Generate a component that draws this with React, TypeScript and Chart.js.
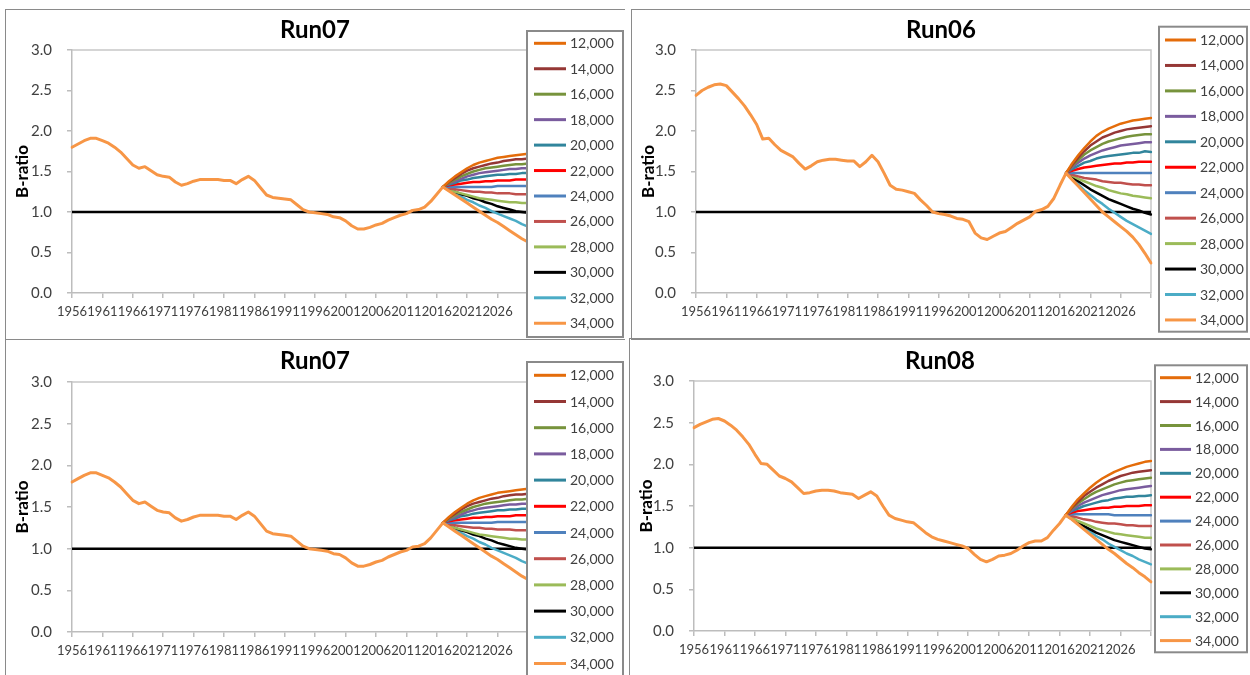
import React, { useEffect, useRef } from 'react';
import { Chart, registerables } from 'chart.js';

Chart.register(...registerables);
Chart.defaults.font.family = 'Lato';

// ---------------- DATA ----------------
const FIRST_YEAR = 1956;
const LAST_YEAR = 2031;
const YEARS: number[] = Array.from({ length: LAST_YEAR - FIRST_YEAR + 1 }, (_, i) => FIRST_YEAR + i);

const TICK_LABELS = ['1956', '1961', '1966', '1971', '1976', '1981', '1986', '1991', '1996', '2001', '2006', '2011', '2016', '2021', '2026'];
const Y_TICKS = [0, 0.5, 1.0, 1.5, 2.0, 2.5, 3.0];

const SERIES_LABELS = ['12,000', '14,000', '16,000', '18,000', '20,000', '22,000', '24,000', '26,000', '28,000', '30,000', '32,000', '34,000'];

const REFERENCE_LEVEL = 1.0;

// History 1956-2017 (shared by all series; drawn as the 34,000 series)
const RUN07_HIST = [
  1.80, 1.84, 1.88, 1.91, 1.91, 1.88, 1.85, 1.80, 1.74, 1.66,
  1.58, 1.54, 1.56, 1.51, 1.46, 1.44, 1.43, 1.37, 1.33, 1.35,
  1.38, 1.40, 1.40, 1.40, 1.40, 1.39, 1.39, 1.35, 1.40, 1.44,
  1.39, 1.30, 1.21, 1.18, 1.17, 1.16, 1.15, 1.09, 1.03, 1.00,
  0.99, 0.98, 0.97, 0.94, 0.93, 0.89, 0.83, 0.79, 0.79, 0.81,
  0.84, 0.86, 0.90, 0.93, 0.96, 0.98, 1.02, 1.03, 1.06, 1.13,
  1.22, 1.31,
];
const RUN06_HIST = [
  2.44, 2.50, 2.54, 2.57, 2.58, 2.56, 2.48, 2.40, 2.31, 2.20,
  2.08, 1.90, 1.91, 1.83, 1.76, 1.72, 1.68, 1.60, 1.53, 1.57,
  1.62, 1.64, 1.65, 1.65, 1.64, 1.63, 1.63, 1.56, 1.62, 1.70,
  1.62, 1.48, 1.33, 1.28, 1.27, 1.25, 1.23, 1.15, 1.08, 1.00,
  0.98, 0.97, 0.95, 0.92, 0.91, 0.88, 0.74, 0.68, 0.66, 0.70,
  0.74, 0.76, 0.81, 0.86, 0.90, 0.94, 1.01, 1.03, 1.07, 1.17,
  1.33, 1.48,
];
const RUN08_HIST = [
  2.44, 2.48, 2.51, 2.54, 2.55, 2.52, 2.47, 2.41, 2.33, 2.24,
  2.12, 2.01, 2.00, 1.93, 1.86, 1.83, 1.79, 1.72, 1.65, 1.66,
  1.68, 1.69, 1.69, 1.68, 1.66, 1.65, 1.64, 1.59, 1.63, 1.67,
  1.62, 1.50, 1.39, 1.35, 1.33, 1.31, 1.30, 1.24, 1.18, 1.13,
  1.10, 1.08, 1.06, 1.04, 1.02, 0.99, 0.92, 0.86, 0.83, 0.86,
  0.90, 0.91, 0.93, 0.97, 1.02, 1.06, 1.08, 1.08, 1.12, 1.21,
  1.29, 1.39,
];

// Projections 2018-2031, one row per catch level (12,000 ... 34,000)
const RUN07_PROJ = [
  [1.38, 1.44, 1.49, 1.54, 1.58, 1.61, 1.63, 1.65, 1.67, 1.68, 1.69, 1.70, 1.71, 1.72],
  [1.37, 1.42, 1.47, 1.51, 1.54, 1.56, 1.58, 1.60, 1.61, 1.63, 1.64, 1.65, 1.65, 1.66],
  [1.36, 1.40, 1.44, 1.47, 1.50, 1.52, 1.54, 1.55, 1.56, 1.57, 1.58, 1.59, 1.59, 1.60],
  [1.35, 1.38, 1.41, 1.44, 1.46, 1.48, 1.49, 1.50, 1.51, 1.52, 1.53, 1.53, 1.54, 1.54],
  [1.34, 1.36, 1.39, 1.40, 1.42, 1.43, 1.44, 1.45, 1.46, 1.46, 1.47, 1.47, 1.48, 1.48],
  [1.33, 1.34, 1.35, 1.36, 1.37, 1.37, 1.38, 1.38, 1.39, 1.39, 1.39, 1.40, 1.40, 1.40],
  [1.31, 1.31, 1.31, 1.31, 1.31, 1.31, 1.31, 1.31, 1.32, 1.32, 1.32, 1.32, 1.32, 1.32],
  [1.29, 1.28, 1.27, 1.26, 1.25, 1.25, 1.24, 1.24, 1.23, 1.23, 1.23, 1.22, 1.22, 1.22],
  [1.28, 1.25, 1.23, 1.21, 1.19, 1.17, 1.16, 1.15, 1.14, 1.13, 1.12, 1.12, 1.11, 1.11],
  [1.28, 1.25, 1.22, 1.20, 1.17, 1.15, 1.12, 1.10, 1.07, 1.05, 1.03, 1.01, 1.00, 0.99],
  [1.27, 1.23, 1.19, 1.15, 1.12, 1.08, 1.05, 1.01, 0.98, 0.95, 0.92, 0.89, 0.85, 0.82],
  [1.26, 1.21, 1.16, 1.11, 1.06, 1.01, 0.96, 0.91, 0.87, 0.82, 0.77, 0.72, 0.67, 0.63],
];
const RUN06_PROJ = [
  [1.60, 1.70, 1.79, 1.87, 1.94, 1.99, 2.03, 2.06, 2.09, 2.11, 2.13, 2.14, 2.15, 2.16],
  [1.58, 1.67, 1.75, 1.82, 1.87, 1.92, 1.95, 1.98, 2.00, 2.02, 2.03, 2.04, 2.05, 2.06],
  [1.57, 1.64, 1.71, 1.76, 1.80, 1.84, 1.87, 1.89, 1.91, 1.93, 1.94, 1.95, 1.96, 1.96],
  [1.55, 1.61, 1.66, 1.70, 1.73, 1.76, 1.78, 1.80, 1.82, 1.83, 1.84, 1.85, 1.86, 1.86],
  [1.53, 1.57, 1.61, 1.63, 1.66, 1.68, 1.69, 1.70, 1.71, 1.72, 1.73, 1.73, 1.75, 1.74],
  [1.51, 1.53, 1.55, 1.56, 1.57, 1.58, 1.59, 1.60, 1.60, 1.61, 1.61, 1.62, 1.62, 1.62],
  [1.48, 1.48, 1.48, 1.48, 1.48, 1.48, 1.48, 1.48, 1.48, 1.48, 1.48, 1.48, 1.48, 1.48],
  [1.46, 1.44, 1.42, 1.41, 1.40, 1.38, 1.37, 1.36, 1.36, 1.35, 1.34, 1.34, 1.33, 1.33],
  [1.45, 1.41, 1.38, 1.35, 1.32, 1.30, 1.27, 1.25, 1.23, 1.22, 1.20, 1.19, 1.18, 1.17],
  [1.43, 1.38, 1.33, 1.28, 1.24, 1.20, 1.16, 1.13, 1.10, 1.07, 1.04, 1.02, 0.99, 0.97],
  [1.41, 1.34, 1.27, 1.21, 1.15, 1.10, 1.04, 0.99, 0.94, 0.89, 0.85, 0.81, 0.77, 0.73],
  [1.40, 1.32, 1.24, 1.16, 1.08, 1.00, 0.94, 0.88, 0.82, 0.76, 0.69, 0.60, 0.49, 0.37],
];
const RUN08_PROJ = [
  [1.49, 1.58, 1.65, 1.72, 1.78, 1.83, 1.87, 1.91, 1.94, 1.97, 1.99, 2.01, 2.03, 2.04],
  [1.48, 1.55, 1.62, 1.67, 1.72, 1.76, 1.80, 1.83, 1.86, 1.88, 1.90, 1.91, 1.92, 1.93],
  [1.47, 1.53, 1.58, 1.63, 1.67, 1.70, 1.73, 1.76, 1.78, 1.80, 1.81, 1.82, 1.83, 1.84],
  [1.45, 1.50, 1.54, 1.57, 1.60, 1.63, 1.65, 1.67, 1.69, 1.70, 1.71, 1.72, 1.73, 1.74],
  [1.44, 1.47, 1.50, 1.52, 1.54, 1.56, 1.57, 1.59, 1.60, 1.61, 1.61, 1.62, 1.62, 1.63],
  [1.42, 1.44, 1.45, 1.46, 1.47, 1.48, 1.48, 1.49, 1.49, 1.50, 1.50, 1.50, 1.51, 1.51],
  [1.40, 1.40, 1.40, 1.40, 1.40, 1.40, 1.40, 1.39, 1.39, 1.39, 1.39, 1.39, 1.39, 1.39],
  [1.38, 1.36, 1.34, 1.33, 1.31, 1.30, 1.29, 1.29, 1.28, 1.27, 1.27, 1.26, 1.26, 1.26],
  [1.36, 1.32, 1.29, 1.26, 1.23, 1.21, 1.19, 1.17, 1.16, 1.15, 1.14, 1.13, 1.12, 1.12],
  [1.35, 1.30, 1.26, 1.22, 1.18, 1.15, 1.12, 1.09, 1.07, 1.05, 1.03, 1.01, 0.99, 0.98],
  [1.34, 1.29, 1.24, 1.19, 1.14, 1.10, 1.05, 1.01, 0.97, 0.93, 0.90, 0.86, 0.83, 0.80],
  [1.34, 1.28, 1.22, 1.16, 1.10, 1.04, 0.98, 0.93, 0.87, 0.81, 0.76, 0.70, 0.65, 0.59],
];

// ---------------- STYLE ----------------
const SERIES_COLORS = ['#E46C0A', '#953735', '#77933C', '#7A5C9E', '#31859C', '#FF0000', '#4F81BD', '#C0504D', '#9BBB59', '#000000', '#4BACC6', '#F79646'];
const AXIS_COLOR = '#bdbdbd';
const TEXT_COLOR = '#404040';
const PANEL_BORDER = '#8a8a8a';

type LegendBox = { x: number; y: number; w: number; h: number; firstY: number; step: number; lineX0: number; lineX1: number; textX: number };
type Layout = { left: number; top: number; width: number; height: number; yw: number; xh: number; rw: number; titleTop: number; titleBottom: number; legend: LegendBox };

const plotFrame = {
  id: 'plotFrame',
  beforeDatasetsDraw(chart: any) {
    const { ctx, chartArea: a } = chart;
    ctx.save();
    ctx.strokeStyle = '#c8c8c8';
    ctx.lineWidth = 1.5;
    ctx.beginPath();
    ctx.moveTo(a.left, a.top);
    ctx.lineTo(a.right, a.top);
    ctx.lineTo(a.right, a.bottom);
    ctx.stroke();
    ctx.restore();
  },
};

const boxLegend = {
  id: 'boxLegend',
  afterDraw(chart: any, _args: any, o: any) {
    const { ctx } = chart;
    ctx.save();
    ctx.fillStyle = '#ffffff';
    ctx.fillRect(o.x, o.y, o.w, o.h);
    ctx.strokeStyle = PANEL_BORDER;
    ctx.lineWidth = 2;
    ctx.strokeRect(o.x, o.y, o.w, o.h);
    const items = chart.data.datasets.filter((d: any) => d.inLegend);
    items.forEach((d: any, i: number) => {
      const y = o.firstY + i * o.step;
      ctx.strokeStyle = d.borderColor;
      ctx.lineWidth = 3;
      ctx.beginPath();
      ctx.moveTo(o.lineX0, y);
      ctx.lineTo(o.lineX1, y);
      ctx.stroke();
      ctx.fillStyle = TEXT_COLOR;
      ctx.font = '14px Lato';
      ctx.textAlign = 'left';
      ctx.textBaseline = 'middle';
      ctx.fillText(d.label, o.textX, y + 0.5);
    });
    ctx.restore();
  },
};

function Panel({ title, hist, proj, L }: { title: string; hist: number[]; proj: number[][]; L: Layout }) {
  const ref = useRef<HTMLCanvasElement>(null);
  useEffect(() => {
    if (!ref.current) return;
    const last = hist.length - 1;
    const datasets: any[] = SERIES_LABELS.map((label, i) => ({
      label,
      data: YEARS.map((_, k) => {
        if (k < last) return i === SERIES_LABELS.length - 1 ? hist[k] : null;
        if (k === last) return hist[k];
        return proj[i][k - last - 1];
      }),
      borderColor: SERIES_COLORS[i],
      backgroundColor: SERIES_COLORS[i],
      borderWidth: i === SERIES_LABELS.length - 1 ? 3 : 2.5,
      pointRadius: 0,
      tension: 0,
      fill: false,
      borderJoinStyle: 'round',
      borderCapStyle: 'round',
      inLegend: true,
      order: i === SERIES_LABELS.length - 1 ? 0 : i + 1,
    }));
    datasets.push({
      label: 'ref',
      data: YEARS.map(() => REFERENCE_LEVEL),
      borderColor: '#000000',
      borderWidth: 2.5,
      pointRadius: 0,
      fill: false,
      inLegend: false,
      order: 100,
    });

    const chart = new Chart(ref.current, {
      type: 'line',
      data: { labels: YEARS.map(String), datasets },
      options: {
        animation: false,
        responsive: false,
        maintainAspectRatio: false,
        events: [],
        layout: { padding: 0 },
        plugins: {
          legend: { display: false },
          tooltip: { enabled: false },
          title: {
            display: true,
            text: title,
            color: '#000000',
            font: { family: 'Lato', size: 24, weight: 'bold', lineHeight: 1.2 },
            padding: { top: L.titleTop, bottom: L.titleBottom },
          },
          boxLegend: L.legend,
        } as any,
        scales: {
          x: {
            type: 'category',
            offset: false,
            grid: {
              drawOnChartArea: false,
              tickLength: 5,
              lineWidth: 1.5,
              color: (c: any) =>
                TICK_LABELS.includes(String(YEARS[c.index])) || c.index === YEARS.length - 1 ? AXIS_COLOR : 'rgba(0,0,0,0)',
            },
            border: { color: AXIS_COLOR, width: 1.5 },
            ticks: {
              autoSkip: false,
              maxRotation: 0,
              minRotation: 0,
              padding: 6,
              color: TEXT_COLOR,
              font: { family: 'Lato', size: 13 },
              callback: function (this: any, value: any) {
                const l = this.getLabelForValue(value);
                return TICK_LABELS.includes(l) ? l : '';
              },
            },
            afterFit: (s: any) => { s.height = L.xh; },
          },
          y: {
            type: 'linear',
            min: Y_TICKS[0],
            max: Y_TICKS[Y_TICKS.length - 1],
            grid: { drawOnChartArea: false, tickLength: 5, color: AXIS_COLOR, lineWidth: 1.5 },
            border: { color: AXIS_COLOR, width: 1.5 },
            ticks: {
              stepSize: 0.5,
              padding: 15,
              color: TEXT_COLOR,
              font: { family: 'Lato', size: 15 },
              callback: (v: any) => Number(v).toFixed(1),
            },
            title: {
              display: true,
              text: 'B-ratio',
              color: '#000000',
              font: { family: 'Lato', size: 17, weight: 'bold', lineHeight: 1.2 },
              padding: { top: 6, bottom: 0 },
            },
            afterFit: (s: any) => { s.width = L.yw; },
          },
          yr: {
            type: 'linear',
            position: 'right',
            display: true,
            grid: { display: false, drawTicks: false },
            border: { display: false },
            ticks: { display: false },
            afterFit: (s: any) => { s.width = L.rw; },
          },
        },
      },
      plugins: [plotFrame, boxLegend],
    } as any);
    return () => chart.destroy();
  }, [title, hist, proj, L]);

  return (
    <canvas
      ref={ref}
      width={L.width}
      height={L.height}
      style={{ position: 'absolute', left: L.left, top: L.top, width: L.width, height: L.height, display: 'block' }}
    />
  );
}

const LAYOUT_TL: Layout = {
  left: 6, top: 10, width: 618, height: 328, yw: 66, xh: 45, rw: 96, titleTop: 6, titleBottom: 5.2,
  legend: { x: 521, y: 21, w: 96, h: 306, firstY: 33.3, step: 25.45, lineX0: 528, lineX1: 560, textX: 564 },
};
const LAYOUT_TR: Layout = {
  left: 632, top: 10, width: 618, height: 328, yw: 64, xh: 45, rw: 99, titleTop: 6, titleBottom: 5.2,
  legend: { x: 527, y: 16.7, w: 88, h: 305, firstY: 30, step: 25.45, lineX0: 533, lineX1: 564, textX: 568 },
};
const LAYOUT_BL: Layout = {
  left: 6, top: 340, width: 618, height: 335, yw: 66, xh: 43, rw: 96, titleTop: 6.6, titleBottom: 6.6,
  legend: { x: 521, y: 22, w: 96, h: 330, firstY: 35.3, step: 26.2, lineX0: 528, lineX1: 560, textX: 564 },
};
const LAYOUT_BR: Layout = {
  left: 630, top: 339, width: 620, height: 336, yw: 64, xh: 44, rw: 99, titleTop: 7.6, titleBottom: 5.6,
  legend: { x: 525, y: 26.3, w: 92, h: 287, firstY: 38.7, step: 23.9, lineX0: 530, lineX1: 561, textX: 565 },
};

const Line = ({ x, y, w, h }: { x: number; y: number; w: number; h: number }) => (
  <div style={{ position: 'absolute', left: x, top: y, width: w, height: h, background: PANEL_BORDER }} />
);

export default function App() {
  return (
    <div style={{ position: 'fixed', left: 0, top: 0, width: 1250, height: 675, background: '#ffffff', overflow: 'hidden' }}>
      <Panel title="Run07" hist={RUN07_HIST} proj={RUN07_PROJ} L={LAYOUT_TL} />
      <Panel title="Run06" hist={RUN06_HIST} proj={RUN06_PROJ} L={LAYOUT_TR} />
      <Panel title="Run07" hist={RUN07_HIST} proj={RUN07_PROJ} L={LAYOUT_BL} />
      <Panel title="Run08" hist={RUN08_HIST} proj={RUN08_PROJ} L={LAYOUT_BR} />
      {/* panel frames */}
      <Line x={5} y={9} w={1} h={330} />
      <Line x={5} y={9} w={620} h={1} />
      <Line x={5} y={339} w={620} h={1} />
      <Line x={631} y={9} w={1} h={330} />
      <Line x={631} y={9} w={619} h={1} />
      <Line x={631} y={339} w={619} h={1} />
      <Line x={5} y={339} w={1} h={336} />
      <Line x={629} y={338} w={1} h={337} />
      <Line x={629} y={338} w={621} h={1} />
    </div>
  );
}
